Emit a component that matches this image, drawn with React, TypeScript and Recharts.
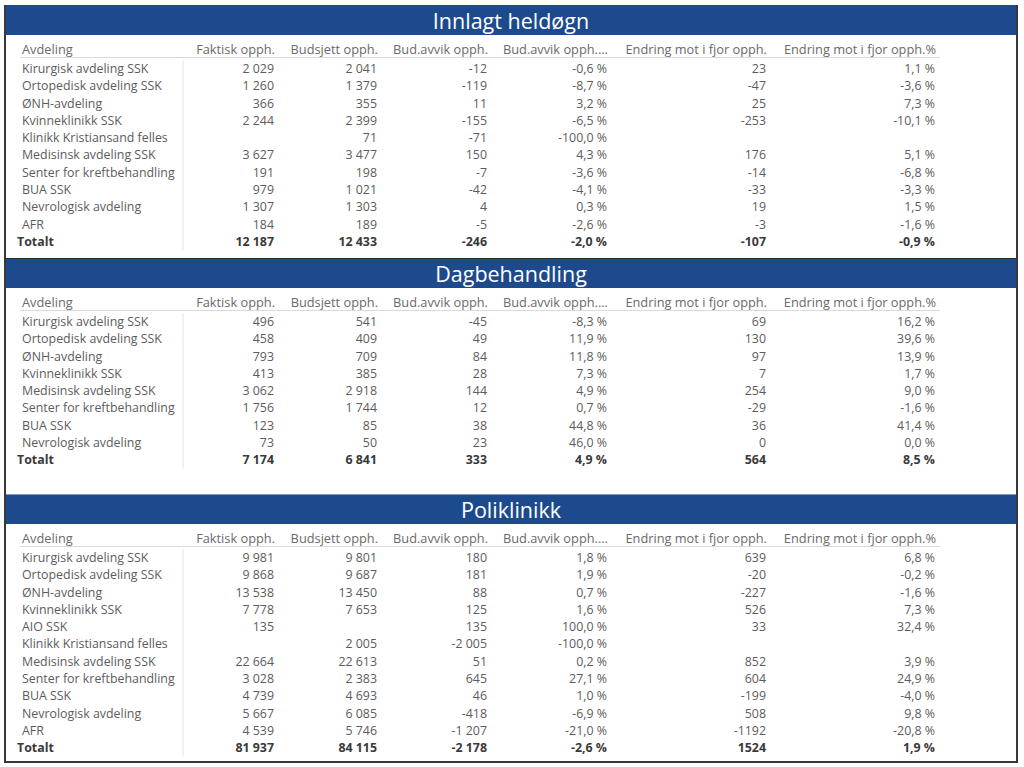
import React from 'react'
import { BarChart, Bar, XAxis, YAxis } from 'recharts'

const FONT = "'Segoe UI', 'Open Sans', sans-serif"
const BLUE = '#1c4a8c'
const TEXT = '#5c5c5c'
const ROW_H = 17.3

const headers = [
  'Avdeling',
  'Faktisk opph.',
  'Budsjett opph.',
  'Bud.avvik opph.',
  'Bud.avvik opph....',
  'Endring mot i fjor opph.',
  'Endring mot i fjor opph.%',
]

// Innlagt heldøgn
const heldognNames = [
  'Kirurgisk avdeling SSK', 'Ortopedisk avdeling SSK', 'ØNH-avdeling', 'Kvinneklinikk SSK',
  'Klinikk Kristiansand felles', 'Medisinsk avdeling SSK', 'Senter for kreftbehandling',
  'BUA SSK', 'Nevrologisk avdeling', 'AFR', 'Totalt',
]
const heldognFaktisk = [2029, 1260, 366, 2244, null, 3627, 191, 979, 1307, 184, 12187]
const heldognBudsjett = [2041, 1379, 355, 2399, 71, 3477, 198, 1021, 1303, 189, 12433]
const heldognAvvik = [-12, -119, 11, -155, -71, 150, -7, -42, 4, -5, -246]
const heldognAvvikPct = [-0.6, -8.7, 3.2, -6.5, -100.0, 4.3, -3.6, -4.1, 0.3, -2.6, -2.0]
const heldognEndring = [23, -47, 25, -253, null, 176, -14, -33, 19, -3, -107]
const heldognEndringPct = [1.1, -3.6, 7.3, -10.1, null, 5.1, -6.8, -3.3, 1.5, -1.6, -0.9]

// Dagbehandling
const dagNames = [
  'Kirurgisk avdeling SSK', 'Ortopedisk avdeling SSK', 'ØNH-avdeling', 'Kvinneklinikk SSK',
  'Medisinsk avdeling SSK', 'Senter for kreftbehandling', 'BUA SSK', 'Nevrologisk avdeling', 'Totalt',
]
const dagFaktisk = [496, 458, 793, 413, 3062, 1756, 123, 73, 7174]
const dagBudsjett = [541, 409, 709, 385, 2918, 1744, 85, 50, 6841]
const dagAvvik = [-45, 49, 84, 28, 144, 12, 38, 23, 333]
const dagAvvikPct = [-8.3, 11.9, 11.8, 7.3, 4.9, 0.7, 44.8, 46.0, 4.9]
const dagEndring = [69, 130, 97, 7, 254, -29, 36, 0, 564]
const dagEndringPct = [16.2, 39.6, 13.9, 1.7, 9.0, -1.6, 41.4, 0.0, 8.5]

// Poliklinikk
const polyNames = [
  'Kirurgisk avdeling SSK', 'Ortopedisk avdeling SSK', 'ØNH-avdeling', 'Kvinneklinikk SSK',
  'AIO SSK', 'Klinikk Kristiansand felles', 'Medisinsk avdeling SSK', 'Senter for kreftbehandling',
  'BUA SSK', 'Nevrologisk avdeling', 'AFR', 'Totalt',
]
const polyFaktisk = [9981, 9868, 13538, 7778, 135, null, 22664, 3028, 4739, 5667, 4539, 81937]
const polyBudsjett = [9801, 9687, 13450, 7653, null, 2005, 22613, 2383, 4693, 6085, 5746, 84115]
const polyAvvik = [180, 181, 88, 125, 135, -2005, 51, 645, 46, -418, -1207, -2178]
const polyAvvikPct = [1.8, 1.9, 0.7, 1.6, 100.0, -100.0, 0.2, 27.1, 1.0, -6.9, -21.0, -2.6]
const polyEndring = [639, -20, -227, 526, 33, null, 852, 604, -199, 508, -1192, 1524]
const polyEndringPct = [6.8, -0.2, -1.6, 7.3, 32.4, null, 3.9, 24.9, -4.0, 9.8, -20.8, 1.9]

type Row = {
  name: string
  faktisk: number | null
  budsjett: number | null
  avvik: number | null
  avvikPct: number | null
  endring: number | null
  endringPct: number | null
}

function buildRows(
  names: string[], faktisk: (number | null)[], budsjett: (number | null)[], avvik: (number | null)[],
  avvikPct: (number | null)[], endring: (number | null)[], endringPct: (number | null)[],
): Row[] {
  return names.map((name, i) => ({
    name,
    faktisk: faktisk[i],
    budsjett: budsjett[i],
    avvik: avvik[i],
    avvikPct: avvikPct[i],
    endring: endring[i],
    endringPct: endringPct[i],
  }))
}

function fmtNum(v: number | null, group = true) {
  if (v == null) return ''
  const s = Math.abs(v).toString()
  const g = group ? s.replace(/\B(?=(\d{3})+(?!\d))/g, ' ') : s
  return (v < 0 ? '-' : '') + g
}

function fmtPct(v: number | null) {
  if (v == null) return ''
  return v.toFixed(1).replace('.', ',') + ' %'
}

// right edge of each value column
const columns: { key: keyof Row; right: number; fmt: (v: any) => string }[] = [
  { key: 'faktisk', right: 274, fmt: (v) => fmtNum(v) },
  { key: 'budsjett', right: 377, fmt: (v) => fmtNum(v) },
  { key: 'avvik', right: 487, fmt: (v) => fmtNum(v) },
  { key: 'avvikPct', right: 607, fmt: fmtPct },
  { key: 'endring', right: 766, fmt: (v) => fmtNum(v, false) },
  { key: 'endringPct', right: 935, fmt: fmtPct },
]

function RowTick({ y, index, rows }: any) {
  const row: Row = rows[index]
  if (!row) return null
  const total = row.name === 'Totalt'
  const fill = total ? '#3a3a3a' : TEXT
  return (
    <g fontFamily={FONT} fontSize={12.4} fontWeight={total ? 700 : 400} fill={fill}>
      <text x={total ? 17 : 22} y={y} dy="0.35em" textAnchor="start">{row.name}</text>
      {columns.map((c) => (
        <text key={c.key} x={c.right} y={y} dy="0.35em" textAnchor="end">
          {c.fmt(row[c.key])}
        </text>
      ))}
    </g>
  )
}

function Section({ title, rows, top, topLine }: { title: string; rows: Row[]; top: number; topLine: string }) {
  const height = 25 + rows.length * ROW_H + 4
  return (
    <>
      <div
        style={{
          position: 'absolute', left: 5, top, width: 1012, height: 30, boxSizing: 'border-box',
          borderTop: `1px solid ${topLine}`, background: BLUE, color: '#fff', fontFamily: FONT,
          fontSize: 21.5, lineHeight: '29px', textAlign: 'center',
        }}
      >
        {title}
      </div>
      <div style={{ position: 'absolute', left: 0, top: top + 30 }}>
        <BarChart
          layout="vertical"
          width={1024}
          height={height}
          data={rows}
          margin={{ top: 25, right: 60, bottom: 4, left: 0 }}
        >
          <XAxis type="number" hide />
          <YAxis
            type="category"
            dataKey="name"
            width={183}
            interval={0}
            tickLine={false}
            axisLine={{ stroke: '#e4e4e4' }}
            tick={(p: any) => <RowTick {...p} rows={rows} />}
          />
          <Bar dataKey="budsjett" fill="transparent" isAnimationActive={false} />
          <g fontFamily={FONT} fontSize={12.8} fill="#6a6a6a">
            <text x={22} y={15} dy="0.35em">{headers[0]}</text>
            {columns.map((c, i) => (
              <text key={c.key} x={c.right + 1} y={15} dy="0.35em" textAnchor="end">
                {headers[i + 1]}
              </text>
            ))}
            <line x1={20} x2={940} y1={22.5} y2={22.5} stroke="#dadada" strokeWidth={1} />
          </g>
        </BarChart>
      </div>
    </>
  )
}

const sections = [
  {
    title: 'Innlagt heldøgn', top: 5, topLine: BLUE,
    rows: buildRows(heldognNames, heldognFaktisk, heldognBudsjett, heldognAvvik, heldognAvvikPct, heldognEndring, heldognEndringPct),
  },
  {
    title: 'Dagbehandling', top: 258, topLine: '#2a2a2a',
    rows: buildRows(dagNames, dagFaktisk, dagBudsjett, dagAvvik, dagAvvikPct, dagEndring, dagEndringPct),
  },
  {
    title: 'Poliklinikk', top: 494, topLine: '#7d9bc8',
    rows: buildRows(polyNames, polyFaktisk, polyBudsjett, polyAvvik, polyAvvikPct, polyEndring, polyEndringPct),
  },
]

export default function App() {
  return (
    <div style={{ position: 'absolute', left: 0, top: 0, width: 1024, height: 767, background: '#fff' }}>
      {sections.map((s) => (
        <Section key={s.title} title={s.title} rows={s.rows} top={s.top} topLine={s.topLine} />
      ))}
      <div
        style={{
          position: 'absolute', left: 4, top: 5, width: 1014, height: 758, boxSizing: 'border-box',
          border: '2px solid #383838', borderTop: 'none', pointerEvents: 'none',
        }}
      />
    </div>
  )
}
